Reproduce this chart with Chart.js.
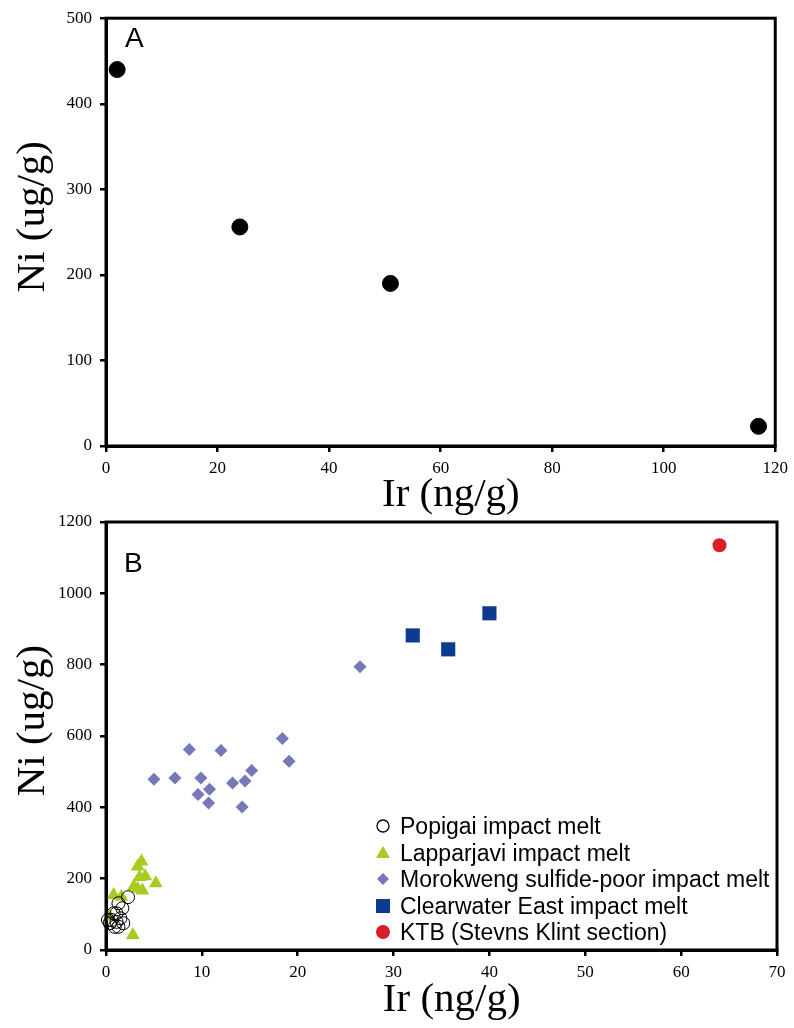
<!DOCTYPE html>
<html>
<head>
<meta charset="utf-8">
<script src="https://cdn.jsdelivr.net/npm/chart.js@4/dist/chart.umd.min.js"></script>
<style>
  body { margin: 0; background: #fff; }
  #wrap { position: relative; width: 794px; height: 1028px; }
  canvas { position: absolute; left: 0; }
  #chartA { top: 0; }
  #chartB { top: 500px; }
  #legendB {
    position: absolute; left: 372px; top: 813px;
    font-family: "Liberation Sans", Arial, sans-serif; font-size: 23px; color: #000;
  }
  #legendB div { height: 26.5px; line-height: 26.5px; white-space: nowrap; display: flex; align-items: center; }
  #legendB svg { width: 22px; height: 20px; margin-right: 6px; }
</style>
</head>
<body>
<div id="wrap">
  <canvas id="chartA" width="794" height="520"></canvas>
  <canvas id="chartB" width="794" height="528"></canvas>
  <div id="legendB">
    <div><svg viewBox="0 0 22 20"><circle cx="11" cy="10" r="6" fill="none" stroke="#000" stroke-width="1.3"/></svg>Popigai impact melt</div>
    <div><svg viewBox="0 0 22 20"><polygon points="11,3 18,15 4,15" fill="#a6cc22"/></svg>Lapparjavi impact melt</div>
    <div><svg viewBox="0 0 22 20"><polygon points="11,4 17,10 11,16 5,10" fill="#7579b8"/></svg>Morokweng sulfide-poor impact melt</div>
    <div><svg viewBox="0 0 22 20"><rect x="4" y="3" width="14" height="14" fill="#0c3b8f"/></svg>Clearwater East impact melt</div>
    <div><svg viewBox="0 0 22 20"><circle cx="11" cy="10" r="7" fill="#d81e28"/></svg>KTB (Stevns Klint section)</div>
  </div>
</div>
<script>
// panel A
const irA = [2, 24, 51, 117];
const niA = [440, 256, 190, 23];
const xTicksA = [0, 20, 40, 60, 80, 100, 120];
const yTicksA = [0, 100, 200, 300, 400, 500];

// panel B
const popigaiIr = [2.3, 1.7, 1.3, 1.1, 0.6, 0.4, 0.9, 1.8, 1.5, 0.8, 1.3, 0.2, 1.1];
const popigaiNi = [148, 117, 131, 103, 84, 75, 65, 75, 89, 103, 65, 84, 79];
const lappIr = [3.7, 3.3, 3.5, 4.1, 5.2, 2.9, 3.8, 3.3, 0.8, 1.6, 2.8, 0.4];
const lappNi = [248, 234, 205, 207, 187, 178, 167, 172, 154, 149, 42, 94];
const moroIr = [8.7, 12.0, 18.4, 19.1, 5.0, 7.2, 9.9, 15.2, 13.2, 14.5, 10.8, 9.6, 10.7, 14.2, 26.5];
const moroNi = [562, 559, 593, 529, 479, 482, 482, 503, 468, 474, 451, 436, 412, 401, 794];
const clearIr = [32.0, 35.7, 40.0];
const clearNi = [882, 843, 944];
const ktbIr = [64.0];
const ktbNi = [1135];
const xTicksB = [0, 10, 20, 30, 40, 50, 60, 70];
const yTicksB = [0, 200, 400, 600, 800, 1000, 1200];

const pts = (xs, ys) => xs.map((x, i) => ({ x: x, y: ys[i] }));

// frame round the plot + panel letter
const boxPlugin = {
  id: 'box',
  afterDraw(chart, args, opts) {
    const { ctx, chartArea: a } = chart;
    ctx.save();
    ctx.strokeStyle = '#000';
    ctx.lineWidth = 3;
    ctx.strokeRect(a.left, a.top, a.right - a.left, a.bottom - a.top);
    ctx.fillStyle = '#000';
    ctx.font = '28px "Liberation Sans", Arial, sans-serif';
    ctx.textBaseline = 'alphabetic';
    ctx.fillText(opts.label, a.left + opts.dx, a.top + opts.dy);
    ctx.restore();
  }
};

function axes(xTicks, yTicks, xTitle) {
  const grid = { display: true, drawOnChartArea: false, drawTicks: true, tickLength: 6, color: '#000', lineWidth: 2.5 };
  const tickFont = { family: '"Liberation Serif", "Times New Roman", serif', size: 17 };
  const titleFont = { family: '"Liberation Serif", "Times New Roman", serif', size: 41 };
  return {
    x: {
      type: 'linear',
      min: xTicks[0], max: xTicks[xTicks.length - 1],
      afterBuildTicks: s => { s.ticks = xTicks.map(v => ({ value: v })); },
      afterFit: s => { s.height = xTitle.h; },
      grid: grid,
      border: { display: true, color: '#000', width: 3 },
      ticks: { color: '#000', font: tickFont, padding: 6, maxRotation: 0, autoSkip: false, callback: v => String(v) },
      title: { display: true, text: '  Ir (ng/g)', color: '#000', font: titleFont, padding: { top: 0, bottom: xTitle.b } }
    },
    y: {
      type: 'linear',
      min: yTicks[0], max: yTicks[yTicks.length - 1],
      afterBuildTicks: s => { s.ticks = yTicks.map(v => ({ value: v })); },
      afterFit: s => { s.width = 106; },
      grid: grid,
      border: { display: true, color: '#000', width: 3 },
      ticks: { color: '#000', font: tickFont, padding: 8, callback: v => String(v) },
      title: { display: true, text: '   Ni (ug/g)', color: '#000', font: titleFont, padding: { top: 9, bottom: 0 } }
    }
  };
}

const common = {
  responsive: false,
  animation: false,
  devicePixelRatio: 1,
  events: [],
  plugins: { legend: { display: false }, tooltip: { enabled: false } }
};

new Chart(document.getElementById('chartA'), {
  type: 'scatter',
  data: {
    datasets: [{
      data: pts(irA, niA),
      pointStyle: 'circle', pointRadius: 8,
      backgroundColor: '#000', borderColor: '#000', borderWidth: 1, clip: false
    }]
  },
  options: Object.assign({}, common, {
    layout: { padding: { left: 0, right: 17, top: 18, bottom: 0 } },
    scales: axes(xTicksA, yTicksA, { h: 74, b: 0 }),
    plugins: Object.assign({}, common.plugins, { box: { label: 'A', dx: 19, dy: 29 } })
  }),
  plugins: [boxPlugin]
});

new Chart(document.getElementById('chartB'), {
  type: 'scatter',
  data: {
    datasets: [
      { label: 'Popigai impact melt', data: pts(popigaiIr, popigaiNi), pointStyle: 'circle', pointRadius: 6.5,
        backgroundColor: 'rgba(255,255,255,0)', borderColor: '#000', borderWidth: 1, clip: false },
      { label: 'Lapparjavi impact melt', data: pts(lappIr, lappNi), pointStyle: 'triangle', pointRadius: 8,
        backgroundColor: '#a6cc22', borderColor: '#a6cc22', borderWidth: 0, clip: false },
      { label: 'Morokweng sulfide-poor impact melt', data: pts(moroIr, moroNi), pointStyle: 'rectRot', pointRadius: 6.5,
        backgroundColor: '#7579b8', borderColor: '#7579b8', borderWidth: 0, clip: false },
      { label: 'Clearwater East impact melt', data: pts(clearIr, clearNi), pointStyle: 'rect', pointRadius: 10,
        backgroundColor: '#0c3b8f', borderColor: '#0c3b8f', borderWidth: 0, clip: false },
      { label: 'KTB (Stevns Klint section)', data: pts(ktbIr, ktbNi), pointStyle: 'circle', pointRadius: 7,
        backgroundColor: '#d81e28', borderColor: '#d81e28', borderWidth: 0, clip: false }
    ]
  },
  options: Object.assign({}, common, {
    layout: { padding: { left: 0, right: 17, top: 22, bottom: 0 } },
    scales: axes(xTicksB, yTicksB, { h: 78, b: 3 }),
    plugins: Object.assign({}, common.plugins, { box: { label: 'B', dx: 18, dy: 50 } })
  }),
  plugins: [boxPlugin]
});
</script>
</body>
</html>
